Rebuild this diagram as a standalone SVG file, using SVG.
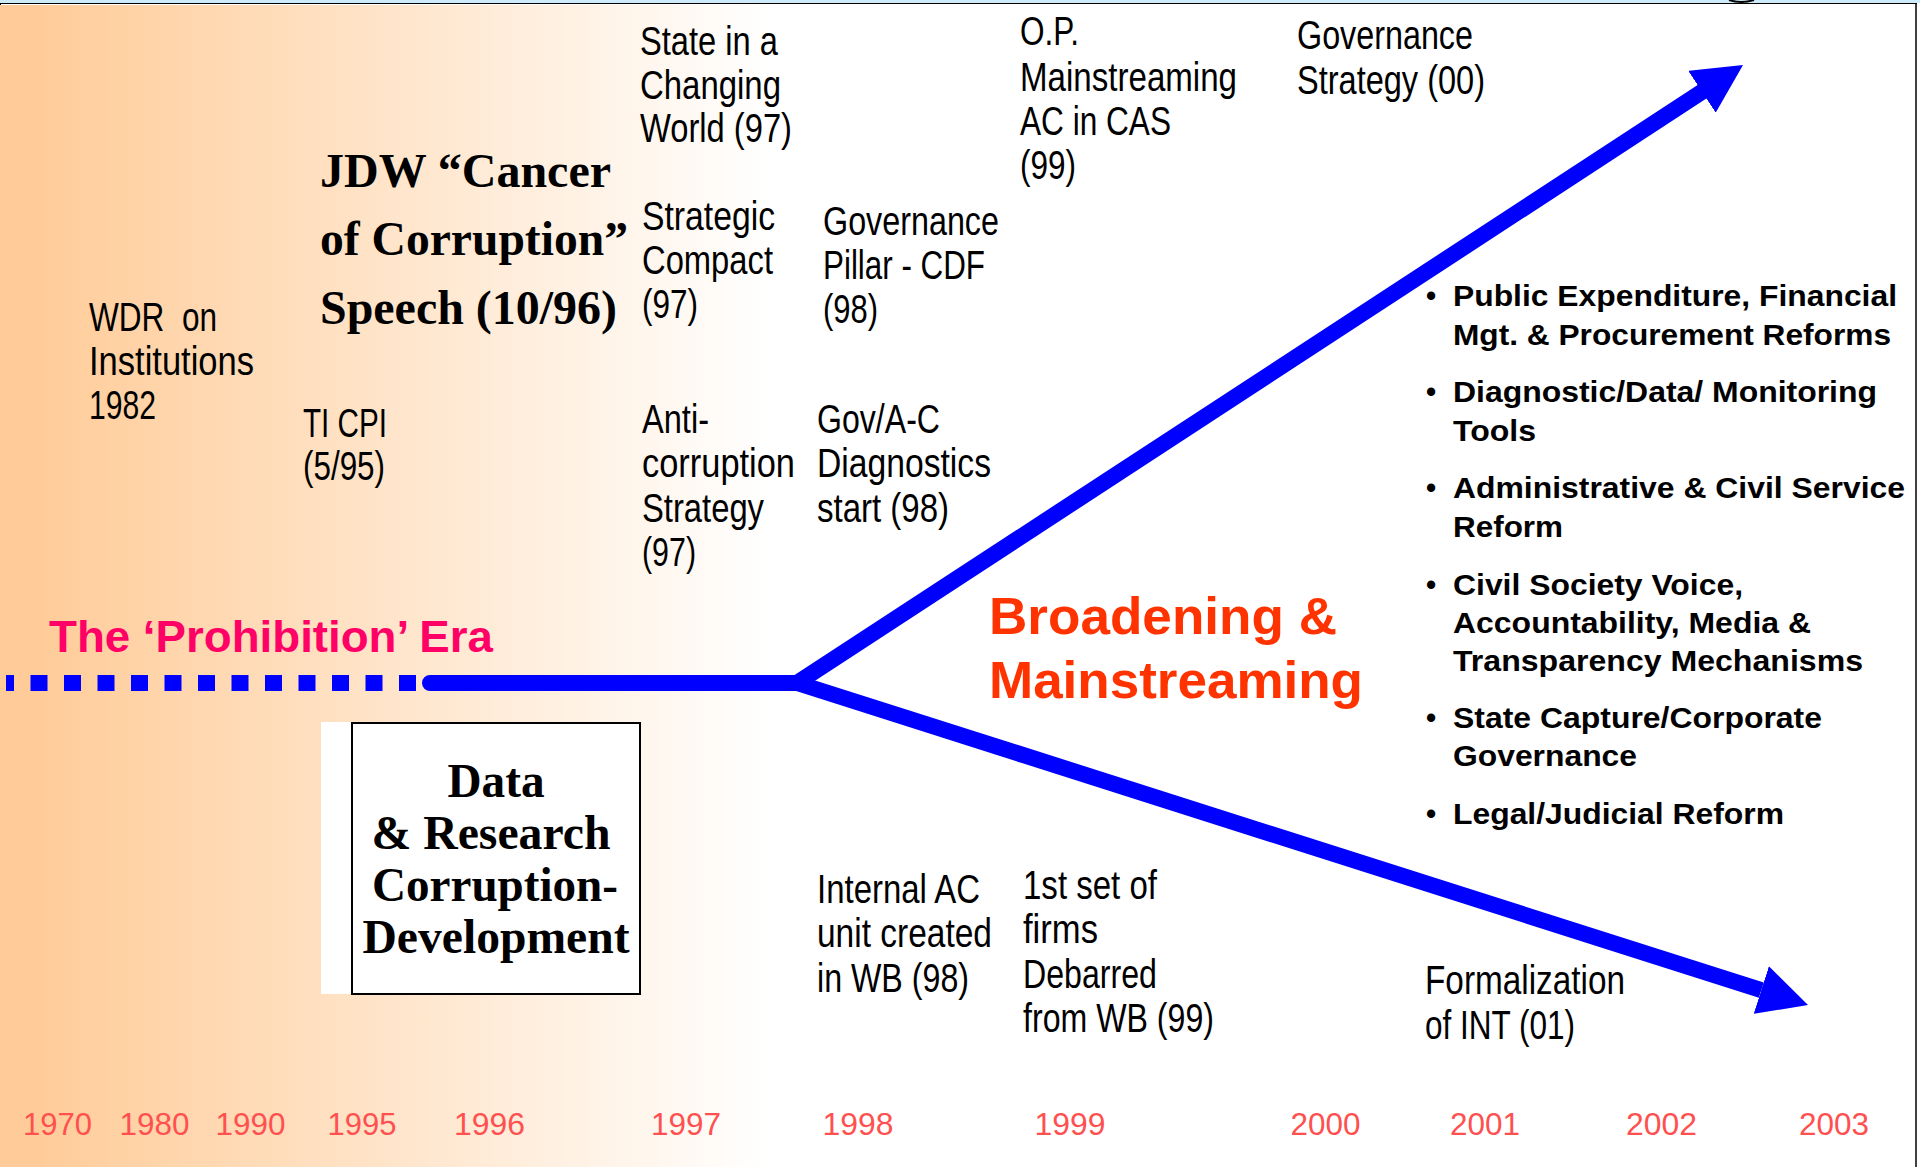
<svg xmlns="http://www.w3.org/2000/svg" width="1920" height="1167" viewBox="0 0 1920 1167">
<style>
.ev{font-family:"Liberation Sans",Arial,sans-serif;font-size:40px;fill:#000}
.sb{font-family:"Liberation Serif","Times New Roman",serif;font-weight:bold;font-size:48px;fill:#000}
.bl{font-family:"Liberation Sans",Arial,sans-serif;font-weight:bold;font-size:29px;fill:#000}
.yr{font-family:"Liberation Sans",Arial,sans-serif;font-size:31px;fill:#FF5050}
.br{font-family:"Liberation Sans",Arial,sans-serif;font-weight:bold;font-size:52px;fill:#FF3300}
.ph{font-family:"Liberation Sans",Arial,sans-serif;font-weight:bold;font-size:44px;fill:#FF0066}
.ln{fill:none;stroke:#0000FF;stroke-width:16}
</style>
<defs>
<linearGradient id="bg" gradientUnits="userSpaceOnUse" x1="0" y1="0" x2="770" y2="0">
<stop offset="0" stop-color="#FFCC99"/>
<stop offset="0.05" stop-color="#FFCC99"/>
<stop offset="1" stop-color="#FFFFFF"/>
</linearGradient>
<marker id="ah" markerUnits="userSpaceOnUse" markerWidth="49" markerHeight="50" viewBox="0 0 49 50" refX="0" refY="25" orient="auto">
<path d="M0,0 L49,25 L0,50 z" fill="#0000FF"/>
</marker>
</defs>
<rect x="0" y="0" width="1920" height="1167" fill="#FFFFFF"/>
<rect x="0" y="5" width="1916" height="1162" fill="url(#bg)"/>
<rect x="0" y="0" width="1920" height="3" fill="#CDEBFA"/>
<line x1="0" y1="3.5" x2="1917" y2="3.5" stroke="#000" stroke-width="1.2"/>
<line x1="0.5" y1="3" x2="0.5" y2="5" stroke="#000" stroke-width="1"/>
<line x1="1916" y1="3" x2="1916" y2="1167" stroke="#000" stroke-width="1.5"/>
<path d="M1729,0 Q1741,4 1754,0" fill="none" stroke="#000" stroke-width="2"/>

<g id="connectors">
<path class="ln" d="M6,683 L416,683" stroke-dasharray="17 16.5" stroke-dashoffset="9"/>
<path class="ln" d="M430,683 L797,683 L1702,91.8" stroke-linecap="round" stroke-linejoin="miter" marker-end="url(#ah)"/>
<path class="ln" d="M797,683 L1761.3,990.1" marker-end="url(#ah)"/>
</g>

<g id="prohibition-era">
<text class="ph" x="49" y="652" textLength="444" lengthAdjust="spacingAndGlyphs">The ‘Prohibition’ Era</text>
</g>

<g id="broadening">
<text class="br" x="989" y="634" textLength="348" lengthAdjust="spacingAndGlyphs">Broadening &amp;</text>
<text class="br" x="989" y="698" textLength="374" lengthAdjust="spacingAndGlyphs">Mainstreaming</text>
</g>

<g id="data-research">
<rect x="321" y="722" width="319" height="272" fill="#FFFFFF"/>
<rect x="352" y="723" width="288" height="271" fill="#FFFFFF" stroke="#000" stroke-width="2"/>
<text class="sb" x="496" y="797" text-anchor="middle" textLength="97" lengthAdjust="spacingAndGlyphs">Data</text>
<text class="sb" x="491" y="849" text-anchor="middle" textLength="239" lengthAdjust="spacingAndGlyphs">&amp; Research</text>
<text class="sb" x="495" y="901" text-anchor="middle" textLength="246" lengthAdjust="spacingAndGlyphs">Corruption-</text>
<text class="sb" x="496" y="953" text-anchor="middle" textLength="267" lengthAdjust="spacingAndGlyphs">Development</text>
</g>

<g id="wdr-1982">
<text class="ev" x="89" y="330.5" textLength="128" lengthAdjust="spacingAndGlyphs" xml:space="preserve">WDR  on</text>
<text class="ev" x="89" y="374.5" textLength="165" lengthAdjust="spacingAndGlyphs">Institutions</text>
<text class="ev" x="89" y="418.5" textLength="67" lengthAdjust="spacingAndGlyphs">1982</text>
</g>

<g id="ti-cpi">
<text class="ev" x="303" y="437" textLength="84" lengthAdjust="spacingAndGlyphs">TI CPI</text>
<text class="ev" x="303" y="480" textLength="82" lengthAdjust="spacingAndGlyphs">(5/95)</text>
</g>

<g id="jdw-speech">
<text class="sb" x="320" y="187" textLength="291" lengthAdjust="spacingAndGlyphs">JDW “Cancer</text>
<text class="sb" x="320" y="255" textLength="308" lengthAdjust="spacingAndGlyphs">of Corruption”</text>
<text class="sb" x="320" y="324" textLength="297" lengthAdjust="spacingAndGlyphs">Speech (10/96)</text>
</g>

<g id="state-changing-world">
<text class="ev" x="640" y="55" textLength="138" lengthAdjust="spacingAndGlyphs">State in a</text>
<text class="ev" x="640" y="98.5" textLength="141" lengthAdjust="spacingAndGlyphs">Changing</text>
<text class="ev" x="640" y="142" textLength="152" lengthAdjust="spacingAndGlyphs">World (97)</text>
</g>

<g id="strategic-compact">
<text class="ev" x="642" y="230" textLength="133" lengthAdjust="spacingAndGlyphs">Strategic</text>
<text class="ev" x="642" y="274" textLength="131" lengthAdjust="spacingAndGlyphs">Compact</text>
<text class="ev" x="642" y="318" textLength="56" lengthAdjust="spacingAndGlyphs">(97)</text>
</g>

<g id="governance-pillar">
<text class="ev" x="823" y="234.5" textLength="176" lengthAdjust="spacingAndGlyphs">Governance</text>
<text class="ev" x="823" y="278.5" textLength="162" lengthAdjust="spacingAndGlyphs">Pillar - CDF</text>
<text class="ev" x="823" y="322.5" textLength="55" lengthAdjust="spacingAndGlyphs">(98)</text>
</g>

<g id="anti-corruption-strategy">
<text class="ev" x="642" y="433" textLength="67" lengthAdjust="spacingAndGlyphs">Anti-</text>
<text class="ev" x="642" y="477" textLength="153" lengthAdjust="spacingAndGlyphs">corruption</text>
<text class="ev" x="642" y="522" textLength="122" lengthAdjust="spacingAndGlyphs">Strategy</text>
<text class="ev" x="642" y="565.5" textLength="54" lengthAdjust="spacingAndGlyphs">(97)</text>
</g>

<g id="gov-ac-diagnostics">
<text class="ev" x="817" y="433" textLength="123" lengthAdjust="spacingAndGlyphs">Gov/A-C</text>
<text class="ev" x="817" y="477" textLength="174" lengthAdjust="spacingAndGlyphs">Diagnostics</text>
<text class="ev" x="817" y="522" textLength="132" lengthAdjust="spacingAndGlyphs">start (98)</text>
</g>

<g id="op-mainstreaming">
<text class="ev" x="1020" y="45" textLength="59" lengthAdjust="spacingAndGlyphs">O.P.</text>
<text class="ev" x="1020" y="90.5" textLength="217" lengthAdjust="spacingAndGlyphs">Mainstreaming</text>
<text class="ev" x="1020" y="134.5" textLength="151" lengthAdjust="spacingAndGlyphs">AC in CAS</text>
<text class="ev" x="1020" y="178.5" textLength="56" lengthAdjust="spacingAndGlyphs">(99)</text>
</g>

<g id="governance-strategy">
<text class="ev" x="1297" y="48.5" textLength="176" lengthAdjust="spacingAndGlyphs">Governance</text>
<text class="ev" x="1297" y="93.5" textLength="188" lengthAdjust="spacingAndGlyphs">Strategy (00)</text>
</g>

<g id="internal-ac">
<text class="ev" x="817" y="903" textLength="163" lengthAdjust="spacingAndGlyphs">Internal AC</text>
<text class="ev" x="817" y="947" textLength="175" lengthAdjust="spacingAndGlyphs">unit created</text>
<text class="ev" x="817" y="992" textLength="152" lengthAdjust="spacingAndGlyphs">in WB (98)</text>
</g>

<g id="debarred">
<text class="ev" x="1023" y="898.5" textLength="134" lengthAdjust="spacingAndGlyphs">1st set of</text>
<text class="ev" x="1023" y="943" textLength="75" lengthAdjust="spacingAndGlyphs">firms</text>
<text class="ev" x="1023" y="988" textLength="134" lengthAdjust="spacingAndGlyphs">Debarred</text>
<text class="ev" x="1023" y="1032" textLength="191" lengthAdjust="spacingAndGlyphs">from WB (99)</text>
</g>

<g id="formalization-int">
<text class="ev" x="1425" y="994" textLength="200" lengthAdjust="spacingAndGlyphs">Formalization</text>
<text class="ev" x="1425" y="1038.5" textLength="150" lengthAdjust="spacingAndGlyphs">of INT (01)</text>
</g>

<g id="bullets">
<text class="bl" x="1426" y="305.5">•</text>
<text class="bl" x="1453" y="305.5" textLength="444" lengthAdjust="spacingAndGlyphs">Public Expenditure, Financial</text>
<text class="bl" x="1453" y="344.5" textLength="438" lengthAdjust="spacingAndGlyphs">Mgt. &amp; Procurement Reforms</text>
<text class="bl" x="1426" y="402">•</text>
<text class="bl" x="1453" y="402" textLength="424" lengthAdjust="spacingAndGlyphs">Diagnostic/Data/ Monitoring</text>
<text class="bl" x="1453" y="440.5" textLength="83" lengthAdjust="spacingAndGlyphs">Tools</text>
<text class="bl" x="1426" y="498">•</text>
<text class="bl" x="1453" y="498" textLength="452" lengthAdjust="spacingAndGlyphs">Administrative &amp; Civil Service</text>
<text class="bl" x="1453" y="536.5" textLength="110" lengthAdjust="spacingAndGlyphs">Reform</text>
<text class="bl" x="1426" y="594.5">•</text>
<text class="bl" x="1453" y="594.5" textLength="290" lengthAdjust="spacingAndGlyphs">Civil Society Voice,</text>
<text class="bl" x="1453" y="632.5" textLength="358" lengthAdjust="spacingAndGlyphs">Accountability, Media &amp;</text>
<text class="bl" x="1453" y="670.5" textLength="410" lengthAdjust="spacingAndGlyphs">Transparency Mechanisms</text>
<text class="bl" x="1426" y="728">•</text>
<text class="bl" x="1453" y="728" textLength="369" lengthAdjust="spacingAndGlyphs">State Capture/Corporate</text>
<text class="bl" x="1453" y="766" textLength="184" lengthAdjust="spacingAndGlyphs">Governance</text>
<text class="bl" x="1426" y="824">•</text>
<text class="bl" x="1453" y="824" textLength="331" lengthAdjust="spacingAndGlyphs">Legal/Judicial Reform</text>
</g>

<g id="years">
<text class="yr" x="23" y="1135" textLength="69" lengthAdjust="spacingAndGlyphs">1970</text>
<text class="yr" x="119.5" y="1135" textLength="70" lengthAdjust="spacingAndGlyphs">1980</text>
<text class="yr" x="215.5" y="1135" textLength="70" lengthAdjust="spacingAndGlyphs">1990</text>
<text class="yr" x="327.5" y="1135" textLength="69" lengthAdjust="spacingAndGlyphs">1995</text>
<text class="yr" x="454" y="1135" textLength="71" lengthAdjust="spacingAndGlyphs">1996</text>
<text class="yr" x="651" y="1135" textLength="70" lengthAdjust="spacingAndGlyphs">1997</text>
<text class="yr" x="822.5" y="1135" textLength="71" lengthAdjust="spacingAndGlyphs">1998</text>
<text class="yr" x="1034.5" y="1135" textLength="71" lengthAdjust="spacingAndGlyphs">1999</text>
<text class="yr" x="1290.5" y="1135" textLength="70" lengthAdjust="spacingAndGlyphs">2000</text>
<text class="yr" x="1450" y="1135" textLength="70" lengthAdjust="spacingAndGlyphs">2001</text>
<text class="yr" x="1626" y="1135" textLength="71" lengthAdjust="spacingAndGlyphs">2002</text>
<text class="yr" x="1799" y="1135" textLength="70" lengthAdjust="spacingAndGlyphs">2003</text>
</g>
</svg>
